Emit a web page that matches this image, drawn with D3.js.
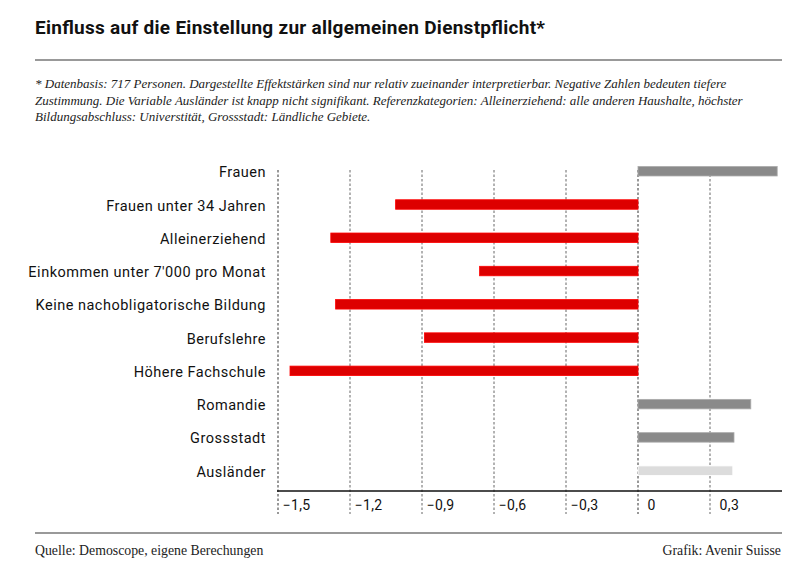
<!DOCTYPE html>
<html>
<head>
<meta charset="utf-8">
<script src="https://cdn.jsdelivr.net/npm/d3@7"></script>
<style>
  body { margin: 0; background: #fff; }
  svg { display: block; }
</style>
</head>
<body>
<div id="chart"></div>
<script>
// Kategorien von oben nach unten
const categories = [
  "Frauen",
  "Frauen unter 34 Jahren",
  "Alleinerziehend",
  "Einkommen unter 7'000 pro Monat",
  "Keine nachobligatorische Bildung",
  "Berufslehre",
  "Höhere Fachschule",
  "Romandie",
  "Grossstadt",
  "Ausländer"
];
// Effektstärken
const values = [0.58, -1.01, -1.28, -0.66, -1.26, -0.89, -1.45, 0.47, 0.40, 0.395];
// Farbgruppe: pos = positiv, neg = negativ, ns = nicht signifikant
const groups = ["pos", "neg", "neg", "neg", "neg", "neg", "neg", "pos", "pos", "ns"];
const ticks = [-1.5, -1.2, -0.9, -0.6, -0.3, 0, 0.3];

const title = "Einfluss auf die Einstellung zur allgemeinen Dienstpflicht*";
const note = [
  "* Datenbasis: 717 Personen. Dargestellte Effektstärken sind nur relativ zueinander interpretierbar. Negative Zahlen bedeuten tiefere",
  "Zustimmung. Die Variable Ausländer ist knapp nicht signifikant. Referenzkategorien:  Alleinerziehend: alle anderen Haushalte, höchster",
  "Bildungsabschluss: Universtität, Grossstadt: Ländliche Gebiete."
];
const source = "Quelle: Demoscope, eigene Berechungen";
const credit = "Grafik: Avenir Suisse";

const W = 800, H = 576;
const sans = "Roboto, 'DejaVu Sans', sans-serif";
const serif = "'Liberation Serif', 'DejaVu Serif', serif";

const color = d3.scaleOrdinal()
  .domain(["pos", "neg", "ns"])
  .range(["#8a8a8a", "#dd0000", "#dcdcdc"]);

const svg = d3.select("#chart").append("svg")
  .attr("width", W)
  .attr("height", H);

// Titel
svg.append("text")
  .attr("x", 35).attr("y", 34)
  .attr("font-family", sans)
  .attr("font-weight", 700)
  .attr("font-size", 19)
  .attr("textLength", 510)
  .attr("lengthAdjust", "spacing")
  .attr("fill", "#111")
  .text(title);

svg.append("line")
  .attr("x1", 35).attr("x2", 782)
  .attr("y1", 60).attr("y2", 60)
  .attr("stroke", "#777").attr("stroke-width", 1.5);

svg.append("g")
  .selectAll("text")
  .data(note)
  .join("text")
  .attr("x", 35)
  .attr("y", (d, i) => 88 + i * 16.5)
  .attr("font-family", serif)
  .attr("font-style", "italic")
  .attr("font-size", 13)
  .attr("fill", "#222")
  .text(d => d);

/* Diagramm ------------*/
const x = d3.scaleLinear()
  .domain([-1.5, 0.6])
  .range([278, 782]);

const y = d3.scaleBand()
  .domain(categories)
  .range([154.6, 487.3]);

const barH = 9.5;
const gridTop = 170, axisY = 491, gridBottom = 514;

// Gitterlinien
svg.append("g")
  .attr("class", "grid")
  .selectAll("line")
  .data(ticks)
  .join("line")
  .attr("x1", d => x(d)).attr("x2", d => x(d))
  .attr("y1", gridTop).attr("y2", gridBottom)
  .attr("stroke", d => d === 0 || d === -1.5 ? "#333" : "#666")
  .attr("stroke-width", 1)
  .attr("stroke-dasharray", "2.5,2");

// Balken
svg.append("g")
  .attr("class", "bars")
  .selectAll("rect")
  .data(values)
  .join("rect")
  .attr("x", d => x(Math.min(0, d)))
  .attr("width", d => Math.abs(x(d) - x(0)))
  .attr("y", (d, i) => y(categories[i]) + y.bandwidth() / 2 - barH / 2)
  .attr("height", barH)
  .attr("fill", (d, i) => color(groups[i]))
  .attr("stroke", (d, i) => d3.color(color(groups[i])).brighter(0.6))
  .attr("stroke-width", 0.8);

// Kategorienbeschriftung
svg.append("g")
  .attr("class", "labels")
  .selectAll("text")
  .data(categories)
  .join("text")
  .attr("x", 266)
  .attr("y", d => y(d) + y.bandwidth() / 2 + 1)
  .attr("dy", "0.35em")
  .attr("text-anchor", "end")
  .attr("font-family", sans)
  .attr("font-size", 14.5)
  .attr("letter-spacing", 0.5)
  .attr("fill", "#111")
  .text(d => d);

// x-Achse
const fmt = d => d3.format(".1f")(d).replace(".", ",").replace("-", "\u2212");
const xAxis = d3.axisBottom(x)
  .tickValues(ticks)
  .tickSize(0)
  .tickFormat(d => d === 0 ? "0" : fmt(d));

const ax = svg.append("g")
  .attr("transform", `translate(0,${axisY})`)
  .call(xAxis);

ax.select(".domain")
  .attr("d", `M${x.range()[0] - 1},0H${x.range()[1]}`)
  .attr("stroke", "#111")
  .attr("stroke-width", 1.5);

ax.selectAll(".tick text")
  .attr("x", d => d < 0 ? 4 : 9)
  .attr("y", 14)
  .attr("dy", "0.35em")
  .attr("text-anchor", "start")
  .attr("font-family", sans)
  .attr("font-size", 14)
  .attr("letter-spacing", 0.4)
  .attr("fill", "#111");

// Fusszeile
svg.append("line")
  .attr("x1", 35).attr("x2", 782)
  .attr("y1", 533).attr("y2", 533)
  .attr("stroke", "#777").attr("stroke-width", 1.5);

svg.append("text")
  .attr("x", 35).attr("y", 555)
  .attr("font-family", serif)
  .attr("font-size", 13.8)
  .attr("fill", "#222")
  .text(source);

svg.append("text")
  .attr("x", 781).attr("y", 555)
  .attr("text-anchor", "end")
  .attr("font-family", serif)
  .attr("font-size", 13.8)
  .attr("fill", "#222")
  .text(credit);
</script>
</body>
</html>
